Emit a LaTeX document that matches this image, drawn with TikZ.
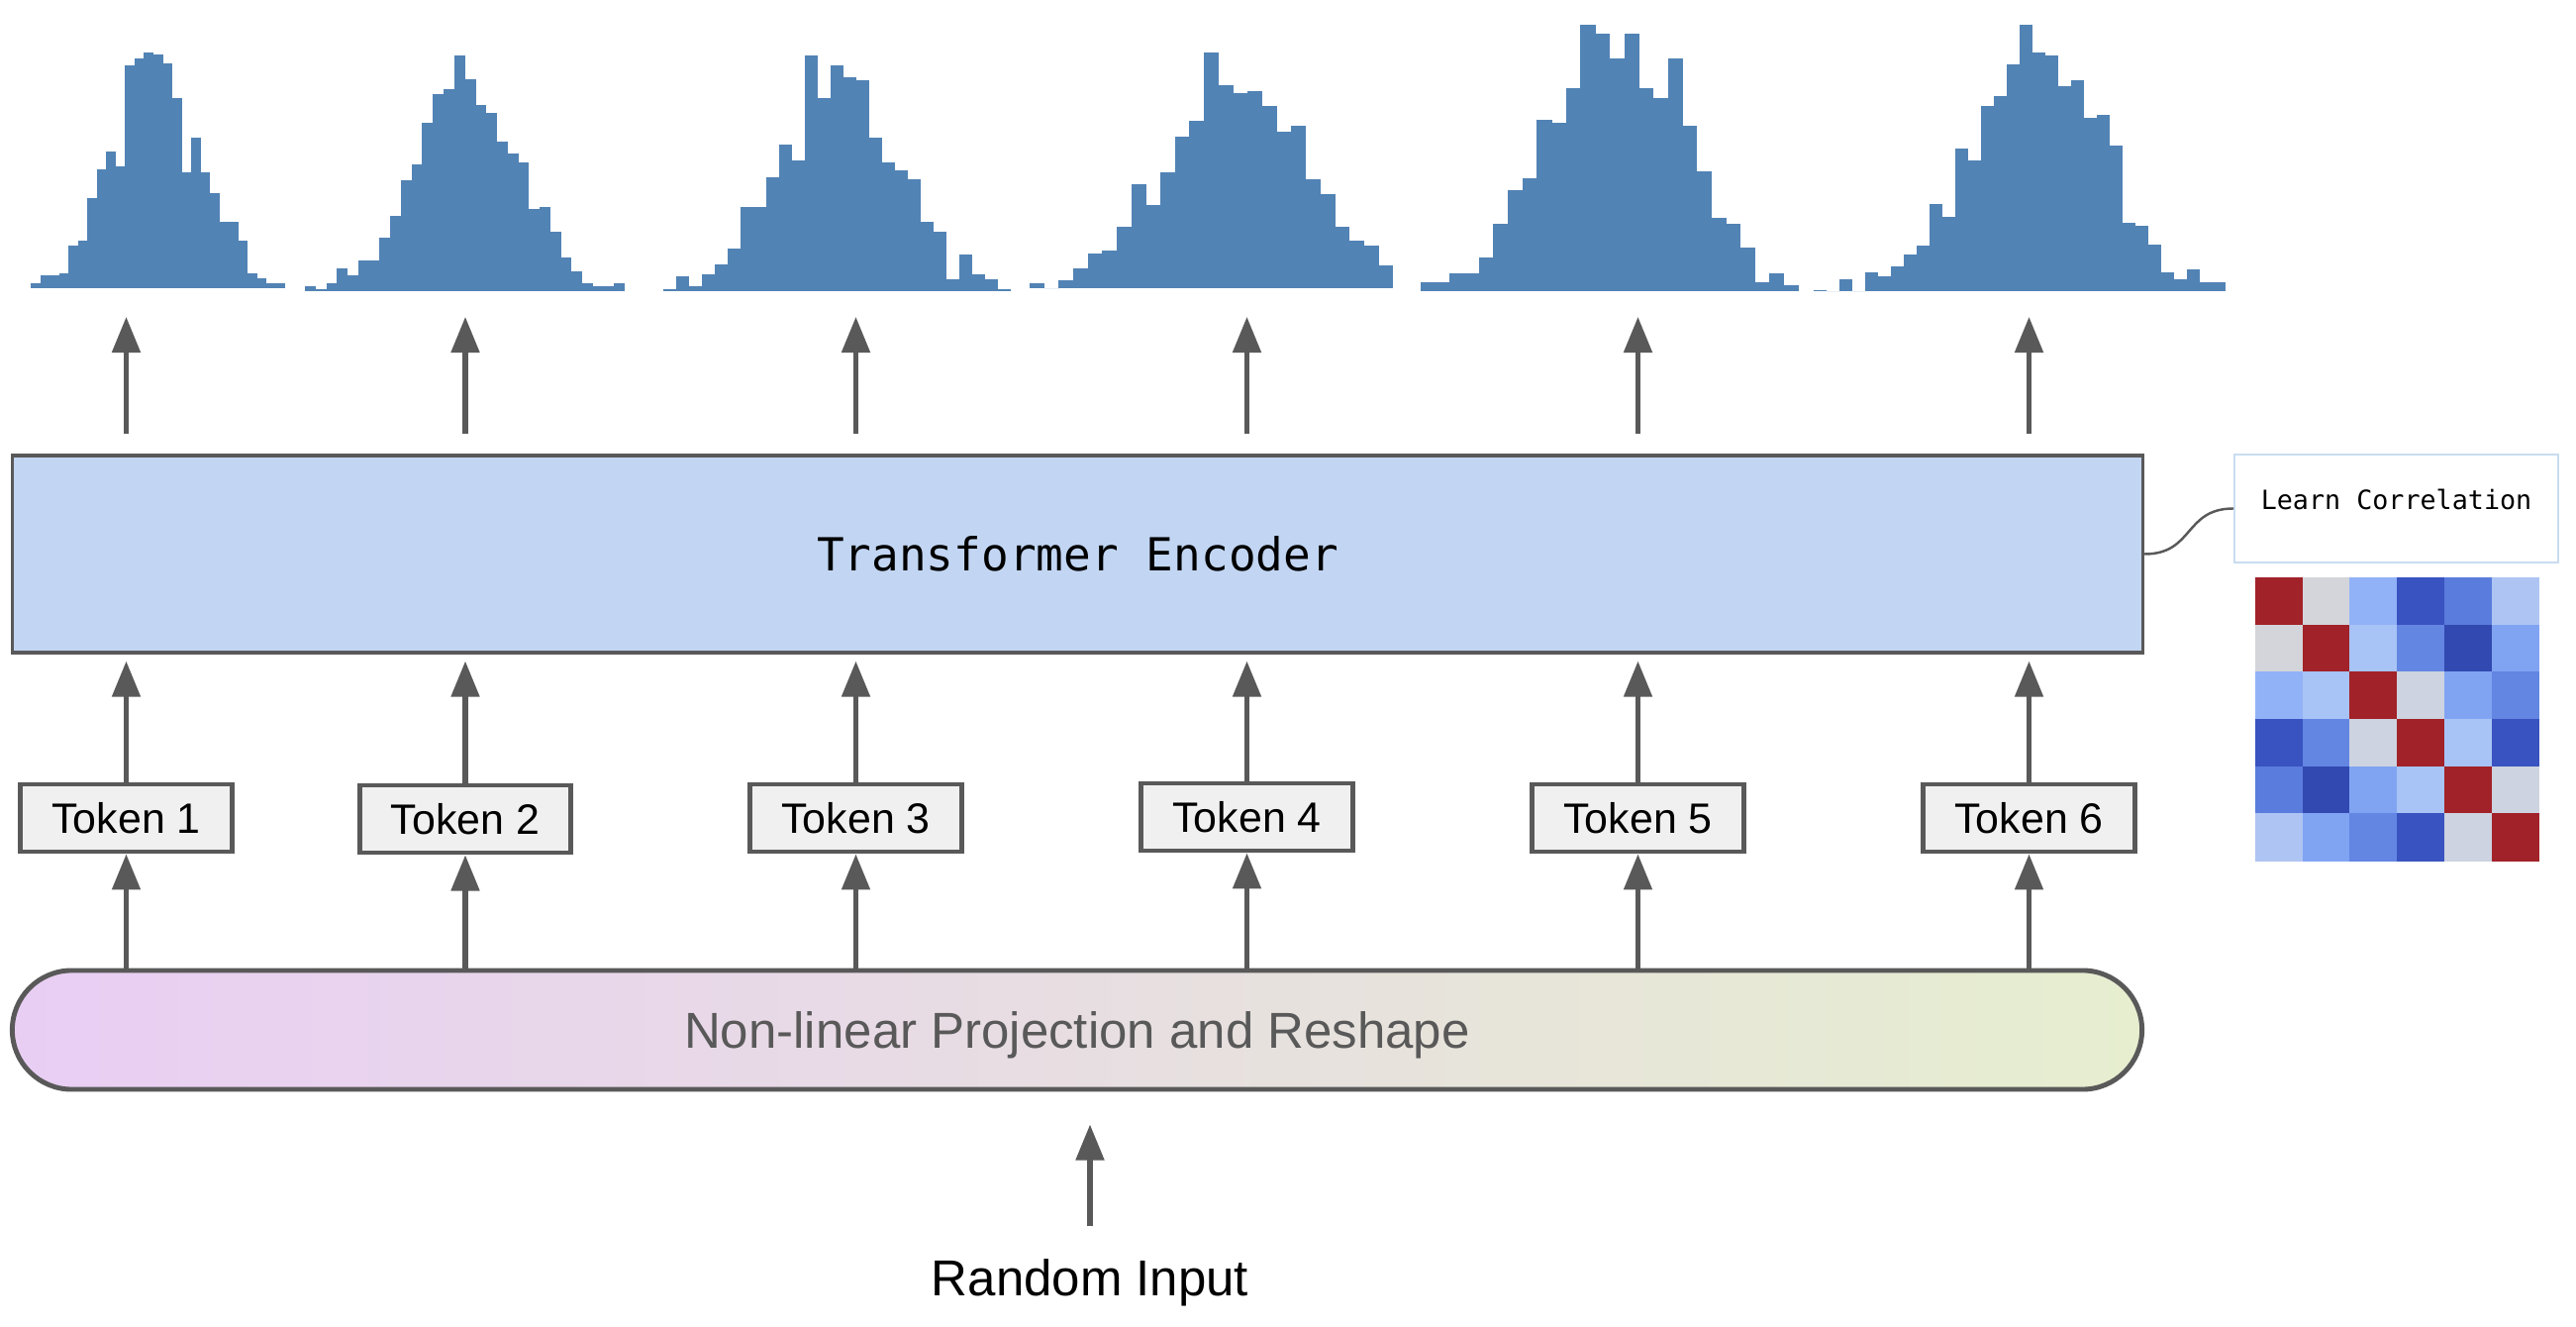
\documentclass[tikz,border=0pt]{standalone}
\usepackage{fontspec}
\setmainfont{Liberation Sans}
\newfontfamily\codefont{DejaVu Sans Mono}
\usepackage{xcolor}
\usetikzlibrary{arrows.meta,positioning}

\definecolor{lineGray}{HTML}{595959}
\definecolor{tokFill}{HTML}{F0F0F0}
\definecolor{encFill}{HTML}{C2D6F3}
\definecolor{projLeft}{HTML}{E9CEF4}
\definecolor{projRight}{HTML}{E6EECF}
\definecolor{noteBlue}{HTML}{C9DCF0}
\definecolor{histBlue}{HTML}{5283B5}
% correlation colours
\definecolor{cRed}{HTML}{A12228}
\definecolor{cGry}{HTML}{D4D5DA}
\definecolor{cGry2}{HTML}{CDD3E0}
\definecolor{cB1}{HTML}{AEC4F3}
\definecolor{cB2}{HTML}{A8C3F5}
\definecolor{cB3}{HTML}{92B2F7}
\definecolor{cB4}{HTML}{80A4F2}
\definecolor{cB5}{HTML}{6386E3}
\definecolor{cB6}{HTML}{5A7CDD}
\definecolor{cB7}{HTML}{3953C0}
\definecolor{cB8}{HTML}{3149B0}

\begin{document}
\begin{tikzpicture}[
  x=0.01cm, y=-0.01cm,
  tokBox/.style={rectangle, minimum width=2.13cm, minimum height=0.68cm,
    inner sep=0pt, fill=tokFill, draw=lineGray, line width=1.4pt,
    font=\fontsize{12.2}{14}\selectfont},
  encBox/.style={rectangle, minimum width=21.51cm, minimum height=1.99cm,
    inner sep=0pt, fill=encFill, draw=lineGray, line width=0.9pt,
    font=\codefont\fontsize{13.1}{16}\selectfont},
  projBox/.style={rectangle, rounded corners=0.6cm,
    minimum width=21.5cm, minimum height=1.2cm, inner sep=0pt,
    text height=0.48cm, text depth=0.11cm,
    left color=projLeft, right color=projRight,
    draw=lineGray, line width=1.4pt, text=lineGray,
    font=\fontsize{14.5}{17}\selectfont},
  noteBox/.style={rectangle, minimum width=3.27cm, minimum height=1.09cm,
    inner sep=0pt, text height=0.2cm, text depth=0.17cm,
    fill=white, draw=noteBlue, line width=0.5pt,
    font=\codefont\fontsize{7.6}{9}\selectfont},
  parr/.style={-{Triangle[length=0.36cm,width=0.28cm]},
    line width=1.45pt, color=lineGray},
  link/.style={line width=0.7pt, color=lineGray},
  histBar/.style={fill=histBlue},
]
  \useasboundingbox (0,0) rectangle (2602,1340);

  %% -- Histograms (one per token) ------------------------------
  \foreach \hx/\hw/\hb/\hlist in {
    31/9.52/291/{5,13,13,15,43,48,91,120,138,123,225,232,238,236,227,192,117,152,117,96,67,67,48,15,10,5,5},
    308/10.76/294/{5,2,8,23,16,31,31,54,76,112,128,170,199,204,238,214,188,180,151,139,130,83,85,60,34,20,8,5,5,8},
    670/13/294/{2,15,5,17,27,43,85,85,115,148,132,238,195,228,216,213,155,130,122,113,70,60,12,37,17,12,2},
    1040/14.68/291/{5,0,8,20,35,38,62,105,84,117,153,169,238,205,197,199,184,158,164,110,95,62,48,43,23},
    1435/14.68/294/{9,9,18,18,34,68,102,114,173,170,205,269,260,235,260,205,195,235,167,121,74,68,44,9,18,6},
    1832/13/294/{1,0,12,0,19,15,25,37,46,88,75,144,132,187,197,229,269,241,238,207,213,175,178,147,69,66,47,19,12,22,9,9}}
    \foreach \h [count=\i from 0] in \hlist
      \fill[histBar] (\hx+\i*\hw,\hb) rectangle ++(\hw+0.4,-\h);

  %% -- Transformer encoder -------------------------------------
  \node[encBox] (enc) at (1088.5,559.5) {Transformer Encoder};

  %% -- Tokens --------------------------------------------------
  \node[tokBox] (t1) at (127.5,826) {Token 1};
  \node[tokBox] (t2) at (470,827) {Token 2};
  \node[tokBox] (t3) at (864.5,826) {Token 3};
  \node[tokBox] (t4) at (1259.5,825) {Token 4};
  \node[tokBox] (t5) at (1654.5,826) {Token 5};
  \node[tokBox] (t6) at (2049.5,826) {Token 6};

  %% -- Projection and input ------------------------------------
  \node[projBox] (proj) at (1088,1040) {Non-linear Projection and Reshape};
  \node[font=\fontsize{14.5}{17}\selectfont] (rin) at (1101,1295) {Random Input};

  %% -- Correlation note ----------------------------------------
  \node[noteBox] (note) at (2420.5,513.5) {Learn Correlation};
  \foreach \row [count=\r from 0] in {
    {cRed,cGry,cB3,cB7,cB6,cB1},
    {cGry,cRed,cB2,cB5,cB8,cB4},
    {cB3,cB2,cRed,cGry2,cB4,cB5},
    {cB7,cB5,cGry2,cRed,cB2,cB7},
    {cB6,cB8,cB4,cB2,cRed,cGry2},
    {cB1,cB4,cB5,cB7,cGry2,cRed}}
    \foreach \c [count=\k from 0] in \row
      \fill[\c] (2278+\k*47.7,583+\r*47.7) rectangle ++(48.2,48.2);

  %% -- Arrows --------------------------------------------------
  \coordinate (encTop) at ([yshift=0.2cm]enc.north);
  \coordinate (encBot) at ([yshift=-0.07cm]enc.south);
  \coordinate (histBase) at (0,320);
  \coordinate (inTip) at ([yshift=-0.33cm]proj.south);

  \foreach \i in {1,...,6} {
    \draw[parr] (t\i |- proj.north) -- (t\i.south);
    \draw[parr] (t\i.north) -- (encBot -| t\i);
    \draw[parr] (encTop -| t\i) -- (histBase -| t\i);
  }
  \draw[parr] ([yshift=0.21cm]rin.north) -- (inTip -| rin);

  \draw[link] (enc.east) .. controls +(50,0) and +(-50,0) .. (note.west);

\end{tikzpicture}
\end{document}
